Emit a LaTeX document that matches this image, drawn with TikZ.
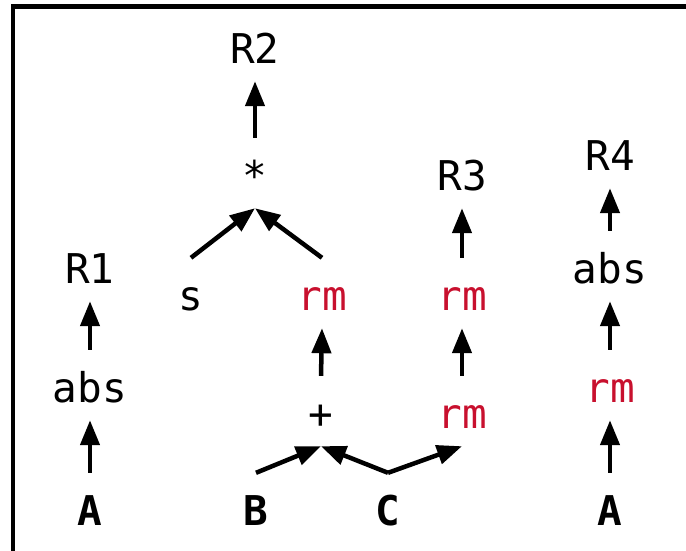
\documentclass[tikz,border=0pt]{standalone}
\usepackage{fontspec}
\setmonofont{DejaVu Sans Mono}
\usetikzlibrary{arrows.meta}
\definecolor{rmred}{RGB}{200,16,46}
\begin{document}
\begin{tikzpicture}[x=1pt,y=-1pt,
  every node/.style={inner sep=0pt, anchor=base, text height=52pt, text depth=18pt,
    font=\ttfamily\fontsize{41}{41}\selectfont},
  rmop/.style={text=rmred},
  leaf/.style={font=\ttfamily\bfseries\fontsize{41}{41}\selectfont},
  flow/.style={line width=4.5pt, -{Triangle[length=25pt,width=19pt]}}]
\useasboundingbox (0,0) rectangle (686,550);
\clip (0,0) rectangle (686,550);
% outer frame
\draw[line width=4.5pt] (13,600) -- (13,6.5) -- (720,6.5);

% expression 1: R1 = abs(A)
\node[leaf] (a1) at (90,525) {A};
\node (abs1) at (90,402) {abs};
\node (r1) at (90,283) {R1};

% expressions 2 and 3 share B and C
\node[leaf] (b) at (256,525) {B};
\node[leaf] (c) at (388,525) {C};
\node (plus) at (321,428) {+};
\node[rmop] (rm1) at (322,310) {rm};
\node (s) at (191,310) {s};
\node (mul) at (255,190) {*};
\node (r2) at (255,63) {R2};
\node[rmop] (rm3) at (462,428) {rm};
\node[rmop] (rm2) at (462,310) {rm};
\node (r3) at (462,190) {R3};

% expression 4: R4 = abs(rm(A))
\node[leaf] (a4) at (610,525) {A};
\node[rmop] (rm4) at (610,402) {rm};
\node (abs4) at (610,283) {abs};
\node (r4) at (610,170) {R4};

% data flow
\draw[flow] (a1.north) -- (abs1.south);
\draw[flow] (abs1.north) -- (r1.south);

\draw[flow] (b.north) -- (plus.south);
\draw[flow] (c.north) -- (plus.south);
\draw[flow] (c.north) -- (rm3.south);
\draw[flow] (plus.north) -- (rm1.south);
\draw[flow] (s.north) -- (mul.south);
\draw[flow] (rm1.north) -- (mul.south);
\draw[flow] (mul.north) -- (r2.south);
\draw[flow] (rm3.north) -- (rm2.south);
\draw[flow] (rm2.north) -- (r3.south);

\draw[flow] (a4.north) -- (rm4.south);
\draw[flow] (rm4.north) -- (abs4.south);
\draw[flow] (abs4.north) -- (r4.south);
\end{tikzpicture}
\end{document}
